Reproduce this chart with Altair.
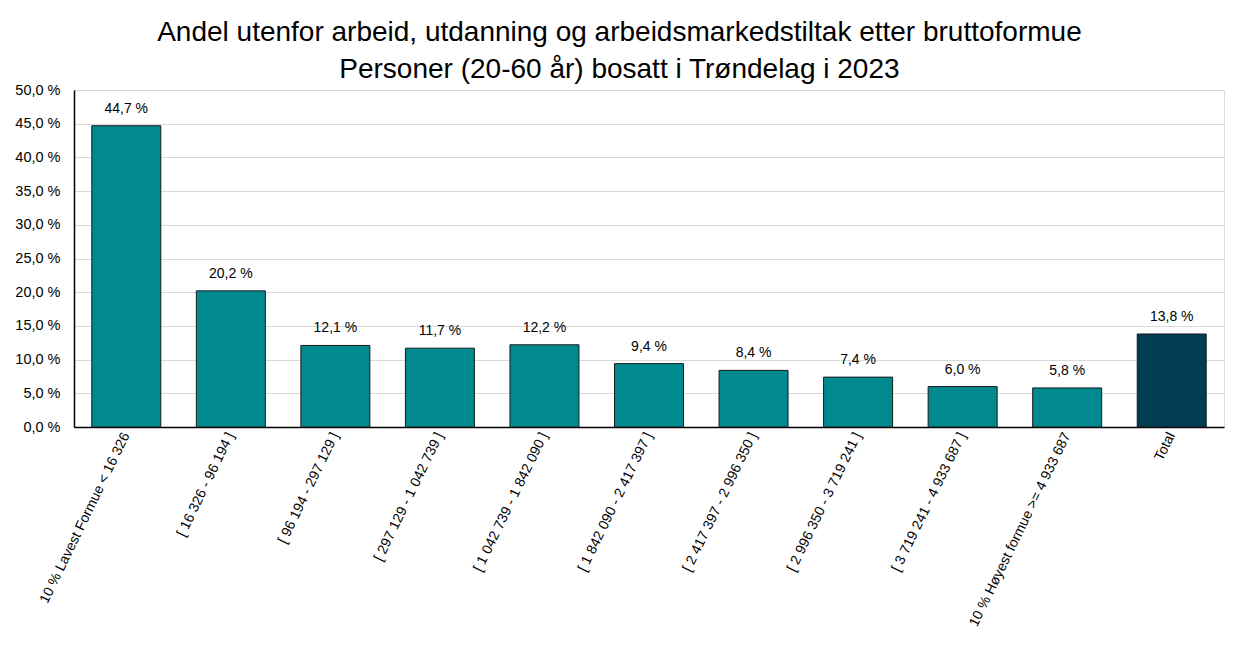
import altair as alt
import pandas as pd

categories = [
    "10 % Lavest Formue < 16 326",
    "[ 16 326 - 96 194 ]",
    "[ 96 194 - 297 129 ]",
    "[ 297 129 - 1 042 739 ]",
    "[ 1 042 739 - 1 842 090 ]",
    "[ 1 842 090 - 2 417 397 ]",
    "[ 2 417 397 - 2 996 350 ]",
    "[ 2 996 350 - 3 719 241 ]",
    "[ 3 719 241 - 4 933 687 ]",
    "10 % Høyest formue >= 4 933 687",
    "Total",
]
values = [44.7, 20.2, 12.1, 11.7, 12.2, 9.4, 8.4, 7.4, 6.0, 5.8, 13.8]
groups = ["Gruppe"] * 10 + ["Total"]
y_ticks = [0, 5, 10, 15, 20, 25, 30, 35, 40, 45, 50]

df = pd.DataFrame({"kategori": categories, "andel": values, "gruppe": groups})
df["etikett"] = [f"{v:.1f}".replace(".", ",") + " %" for v in values]

FONT = "Liberation Sans"

x_axis = alt.Axis(
    labelAngle=-64,
    labelFontSize=14,
    labelFont=FONT,
    labelColor="#000000",
    labelPadding=6,
    ticks=False,
    domainColor="#000000",
    domainWidth=1.5,
    labelLimit=300,
)
y_axis = alt.Axis(
    values=y_ticks,
    labelExpr="replace(format(datum.value, '.1f'), '.', ',') + ' %'",
    labelFontSize=14.5,
    labelFont=FONT,
    labelColor="#000000",
    labelPadding=14,
    labelOverlap=False,
    ticks=False,
    domainColor="#000000",
    domainWidth=1.5,
    gridColor="#d9d9d9",
    gridWidth=1,
)
x_scale = alt.Scale(paddingInner=0.34, paddingOuter=0.17)
y_scale = alt.Scale(domain=[0, 50])

bars = alt.Chart(df).mark_bar(stroke="#1a1a1a", strokeWidth=1).encode(
    x=alt.X("kategori:N", sort=categories, title=None, scale=x_scale, axis=x_axis),
    y=alt.Y("andel:Q", title=None, scale=y_scale, axis=y_axis),
    color=alt.Color(
        "gruppe:N",
        scale=alt.Scale(domain=["Gruppe", "Total"], range=["#008A8F", "#003D52"]),
        legend=None,
    ),
)

labels = alt.Chart(df).mark_text(
    baseline="bottom", dy=-10, fontSize=14, font=FONT, color="#000000"
).encode(
    x=alt.X("kategori:N", sort=categories, title=None, scale=x_scale, axis=x_axis),
    y=alt.Y("andel:Q", title=None, scale=y_scale, axis=y_axis),
    text="etikett:N",
)

chart = (
    alt.layer(bars, labels)
    .properties(
        width=1150,
        height=337,
        title=alt.TitleParams(
            text=[
                "Andel utenfor arbeid, utdanning og arbeidsmarkedstiltak etter bruttoformue",
                "Personer (20-60 år) bosatt i Trøndelag i 2023",
            ],
            fontSize=28,
            font=FONT,
            fontWeight="normal",
            color="#000000",
            anchor="middle",
            frame="bounds",
            lineHeight=37,
            offset=-2,
        ),
    )
    .configure_view(stroke=None)
    .configure(padding={"left": 6, "right": 2, "top": 11, "bottom": 5})
)

chart.save("out.html", embed_options={"renderer": "svg", "actions": False})
